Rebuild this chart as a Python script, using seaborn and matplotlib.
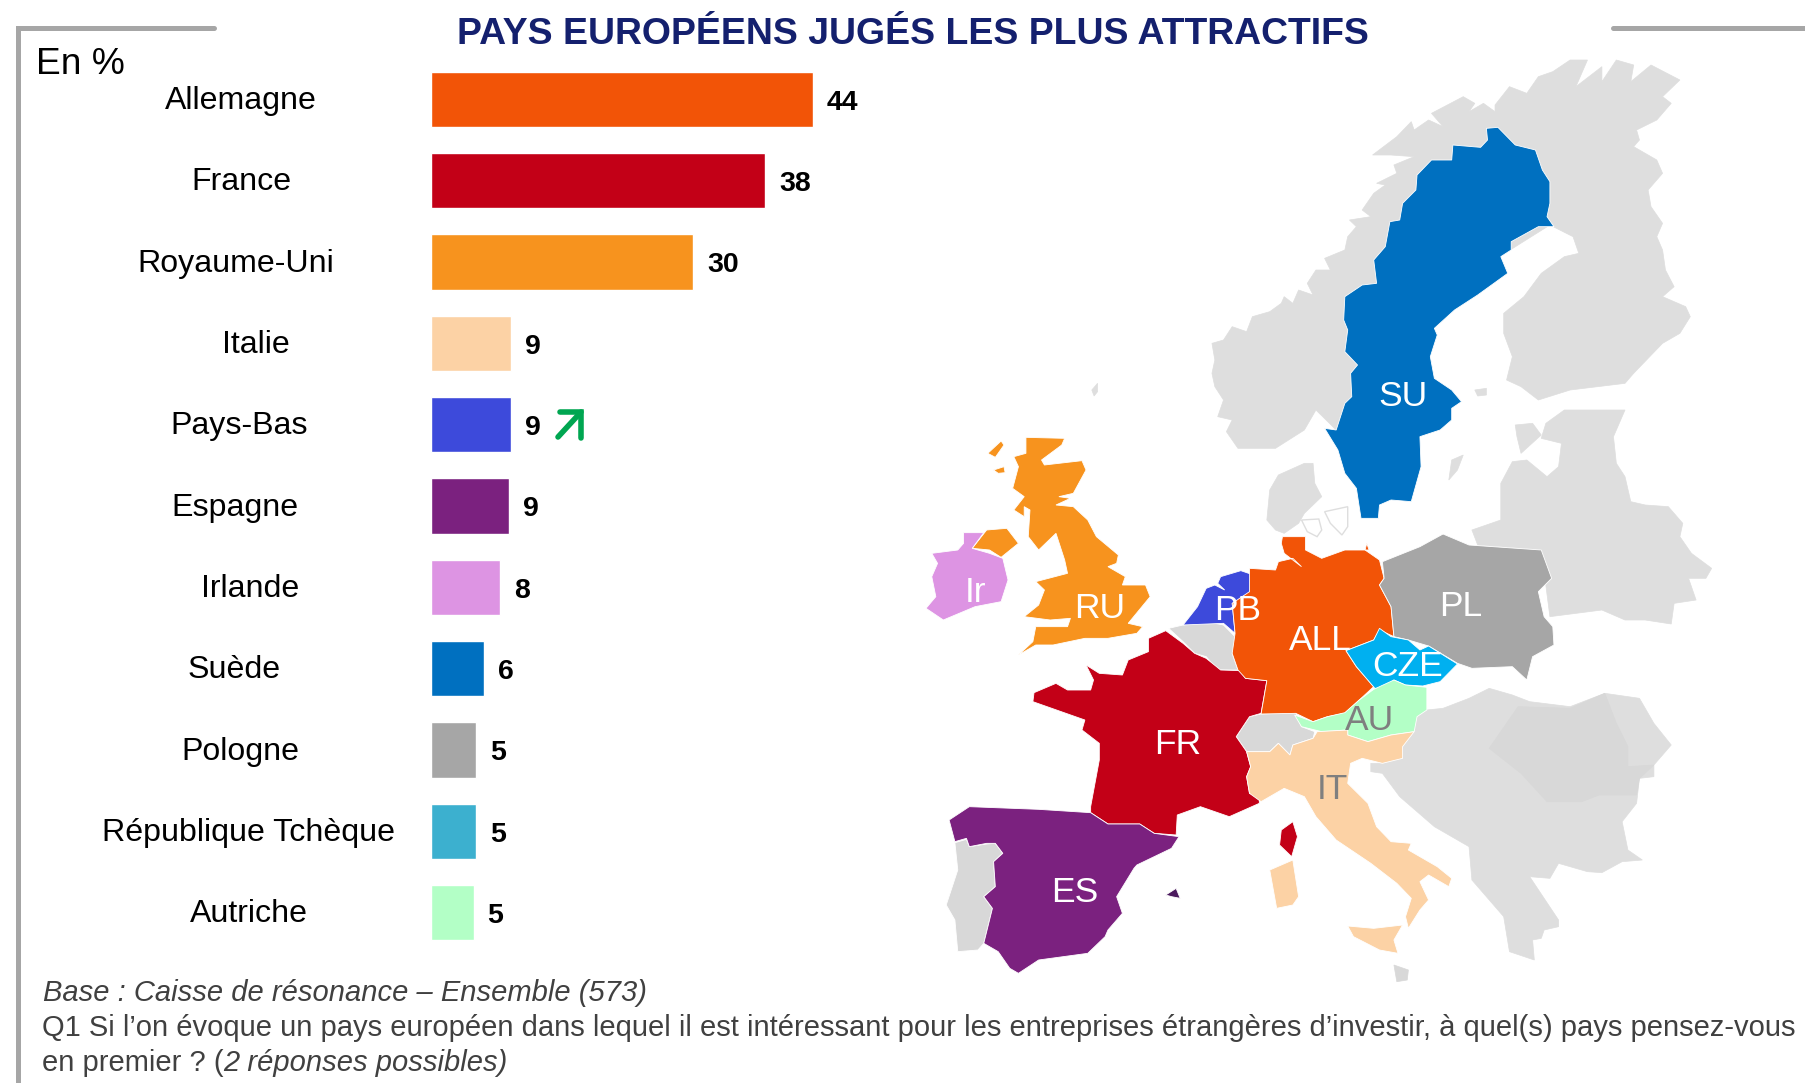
import matplotlib
matplotlib.use('Agg')
import matplotlib.pyplot as plt
from matplotlib.patches import Polygon
from matplotlib.transforms import blended_transform_factory
import pandas as pd
import seaborn as sns

# chart data
categories = ['Allemagne', 'France', 'Royaume-Uni', 'Italie', 'Pays-Bas', 'Espagne', 'Irlande',
              'Suède', 'Pologne', 'République Tchèque', 'Autriche']
values = [43.8, 38.3, 30.1, 9.2, 9.2, 9.0, 7.9, 6.1, 5.2, 5.2, 4.9]
bar_colors = ['#F25407', '#C30017', '#F7931E', '#FCD2A5', '#3D4ADB', '#7B217F', '#DD94E3',
              '#0070C0', '#A6A6A6', '#3CB0CF', '#B3FFC6']
label_x = [241, 241, 236, 256, 239, 235, 250, 234, 240, 249, 249]

W, H = 1806, 1083
GRAY = '#DEDEDE'
DARK_GRAY = '#D8D8D8'

sns.set_style('white')
plt.rcParams['font.family'] = ['Liberation Sans', 'DejaVu Sans']


def z1(pts):
    return [(900 + x / 1.731, 40 + y / 3) for x, y in pts]


def z2(pts):
    return [(900 + x / 1.731, 520 + y / 3) for x, y in pts]


norway_finland = z1([(565, 1175), (575, 1140), (550, 1130), (560, 1080), (545, 1040), (540, 1000), (545, 960),
                     (540, 910), (560, 900), (575, 860), (600, 875), (610, 830), (640, 815), (660, 790), (665, 770),
                     (680, 790), (690, 750), (715, 765), (705, 730), (720, 690), (745, 690), (735, 655), (770, 630),
                     (775, 590), (790, 560), (778, 540), (815, 530), (800, 510), (820, 460), (840, 435), (825, 430),
                     (860, 400), (855, 375), (890, 350), (850, 345), (818, 345), (860, 290), (885, 245), (890, 270),
                     (915, 240), (940, 260), (920, 220), (975, 170), (995, 190), (985, 215), (1010, 190), (1030, 215),
                     (1030, 195), (1055, 140), (1085, 160), (1105, 110), (1130, 95), (1160, 60), (1190, 60),
                     (1170, 140), (1215, 80), (1215, 125), (1240, 60), (1270, 75), (1265, 125), (1300, 75),
                     (1350, 120), (1320, 170), (1335, 190), (1310, 240), (1275, 270), (1280, 300), (1270, 320),
                     (1310, 360), (1320, 400), (1295, 450), (1300, 500), (1320, 550), (1310, 590), (1320, 630),
                     (1325, 690), (1340, 740), (1320, 770), (1360, 800), (1368, 830), (1350, 880), (1320, 910),
                     (1270, 1000), (1255, 1030), (1160, 1050), (1105, 1080), (1075, 1040), (1050, 1020), (1060, 950),
                     (1045, 880), (1045, 820), (1080, 770), (1110, 700), (1150, 650), (1175, 640), (1165, 590),
                     (1125, 555), (900, 800), (780, 1100), (755, 1170), (720, 1110), (700, 1170), (650, 1225),
                     (585, 1225)])
sweden = z1([(1015, 265), (1035, 262), (1065, 315), (1100, 330), (1112, 390), (1125, 425), (1125, 490), (1120, 530),
             (1132, 560), (1105, 560), (1058, 605), (1058, 630), (1040, 650), (1052, 700), (1000, 765), (960, 810),
             (925, 865), (930, 885), (918, 950), (925, 1015), (955, 1050), (972, 1085), (955, 1105), (955, 1140),
             (935, 1170), (900, 1190), (902, 1280), (885, 1385), (850, 1380), (830, 1395), (828, 1435), (798, 1435),
             (790, 1345), (770, 1300), (758, 1230), (735, 1165), (755, 1170), (770, 1090), (782, 1070), (780, 1000),
             (792, 975), (770, 935), (775, 870), (768, 840), (770, 770), (800, 735), (825, 730), (820, 660),
             (840, 620), (848, 545), (865, 540), (870, 490), (893, 450), (895, 405), (920, 360), (955, 360),
             (957, 315), (1005, 322), (1017, 300)])
baltics = z1([(1118, 1150), (1150, 1110), (1255, 1110), (1235, 1190), (1240, 1270), (1255, 1310), (1265, 1385),
              (1290, 1395), (1330, 1400), (1355, 1450), (1350, 1490), (1370, 1540), (1405, 1585), (1395, 1615),
              (1365, 1615), (1378, 1680), (1340, 1690), (1335, 1752), (1290, 1740), (1255, 1740), (1215, 1710),
              (1125, 1730), (1110, 1530), (1000, 1515), (990, 1470), (1040, 1440), (1040, 1330), (1060, 1265),
              (1085, 1260), (1120, 1310), (1140, 1280), (1145, 1210), (1110, 1195)])
denmark = z1([(640, 1350), (655, 1305), (700, 1270), (715, 1270), (718, 1330), (730, 1370), (700, 1420), (690, 1450),
              (665, 1480), (650, 1470), (635, 1440)])
balkans = z2([(912, 570), (940, 565), (985, 535), (1020, 505), (1060, 525), (1090, 545), (1160, 560), (1220, 520),
              (1280, 535), (1305, 610), (1335, 675), (1305, 735), (1305, 770), (1280, 775), (1275, 850), (1250, 905),
              (1260, 990), (1285, 1020), (1250, 1025), (1215, 1058), (1190, 1055), (1140, 1030), (1125, 1075),
              (1090, 1070), (1140, 1200), (1140, 1220), (1115, 1230), (1110, 1255), (1095, 1260), (1098, 1320),
              (1055, 1295), (1045, 1190), (990, 1080), (985, 980), (925, 920), (865, 830), (835, 760), (815, 755),
              (815, 730), (835, 730), (870, 715), (870, 680), (890, 635), (895, 590)])
romania = z2([(1070, 560), (1160, 565), (1220, 520), (1240, 610), (1260, 680), (1260, 740), (1305, 735), (1280, 775),
              (1275, 825), (1210, 825), (1180, 845), (1120, 845), (1075, 760), (1020, 685)])
uk = z2([(218, -248), (285, -245), (280, -225), (245, -180), (250, -165), (315, -178), (322, -150), (300, -80),
         (275, -70), (295, -65), (270, -45), (300, -40), (325, 0), (340, 50), (378, 105), (375, 130), (360, 140),
         (390, 170), (385, 195), (425, 195), (433, 230), (395, 310), (420, 320), (410, 340), (360, 355), (320, 355),
         (265, 375), (235, 375), (205, 405), (230, 365), (235, 320), (290, 320), (295, 295), (260, 300), (215, 290),
         (240, 255), (250, 210), (235, 185), (290, 160), (285, 120), (270, 40), (240, 90), (222, 50), (222, 50),
         (225, -30), (215, -40), (215, -10), (197, -30), (215, -70), (195, -95), (205, -160), (197, -190), (218, -200)])
n_ireland = z2([(125, 85), (150, 30), (185, 25), (205, 70), (175, 112), (155, 90)])
ireland = z2([(110, 38), (145, 38), (125, 85), (155, 100), (178, 115), (187, 180), (175, 245), (130, 260), (75, 300),
              (45, 265), (62, 230), (55, 170), (65, 130), (55, 100), (100, 90), (110, 70)])
netherlands = z2([(555, 170), (590, 152), (612, 165), (610, 220), (575, 250), (580, 340), (560, 310), (490, 315),
                  (515, 260), (530, 205), (545, 195), (562, 210), (550, 190)])
belgium = z2([(465, 325), (490, 315), (530, 305), (560, 315), (580, 350), (585, 395), (575, 400), (585, 450),
              (550, 450), (530, 410), (510, 400), (490, 365)])
france = z2([(460, 332), (490, 370), (510, 400), (530, 415), (555, 450), (590, 452), (598, 475), (635, 482),
             (625, 580), (605, 590), (582, 650), (600, 695), (607, 740), (600, 770), (605, 820), (622, 828),
             (622, 850), (570, 890), (520, 860), (480, 885), (478, 945), (440, 940), (415, 912), (360, 912),
             (330, 878), (330, 860), (345, 720), (345, 670), (315, 630), (320, 600), (230, 545), (232, 518),
             (270, 490), (290, 510), (330, 510), (335, 480), (322, 435), (345, 460), (385, 465), (395, 420),
             (430, 395), (430, 355)])
corsica = z2([(680, 905), (688, 950), (678, 1010), (657, 975), (660, 930)])
spain = z2([(85, 900), (120, 860), (240, 868), (330, 878), (360, 912), (415, 912), (440, 940), (483, 950), (470, 985),
            (410, 1035), (405, 1045), (375, 1130), (385, 1180), (360, 1230), (355, 1250), (325, 1300), (240, 1320),
            (205, 1360), (190, 1345), (170, 1295), (145, 1270), (160, 1165), (145, 1130), (165, 1100), (162, 1025),
            (178, 1000), (165, 970), (150, 970), (120, 980), (115, 955), (95, 965)])
mallorca = z2([(460, 1125), (478, 1105), (485, 1135), (470, 1130)])
portugal = z2([(95, 968), (115, 958), (120, 980), (150, 972), (165, 970), (178, 1000), (162, 1025), (165, 1100),
               (145, 1130), (160, 1165), (145, 1270), (135, 1290), (100, 1295), (95, 1200), (80, 1155), (100, 1050)])
germany = z2([(662, 50), (702, 50), (702, 90), (730, 115), (770, 90), (805, 90), (830, 120), (838, 175), (830, 195),
              (850, 260), (855, 350), (830, 330), (820, 360), (772, 392), (790, 440), (820, 500), (795, 540),
              (770, 580), (740, 590), (715, 605), (685, 580), (625, 582), (635, 482), (598, 475), (585, 450),
              (575, 400), (580, 340), (575, 250), (605, 215), (605, 145), (650, 150), (655, 125), (680, 115),
              (695, 140), (665, 100), (660, 70)])
poland = z2([(835, 125), (900, 80), (940, 42), (985, 75), (1110, 90), (1128, 175), (1105, 215), (1115, 290),
             (1130, 320), (1132, 375), (1095, 410), (1085, 480), (1060, 440), (990, 445), (965, 430), (915, 378),
             (880, 360), (855, 350), (850, 260), (830, 195), (838, 175)])
czech = z2([(830, 325), (850, 350), (880, 360), (900, 390), (915, 378), (965, 432), (935, 485), (905, 498), (875, 495),
            (855, 480), (840, 505), (822, 505), (790, 440), (772, 392), (820, 360)])
austria = z2([(855, 480), (875, 495), (912, 502), (912, 570), (895, 590), (890, 635), (850, 645), (810, 665),
              (775, 645), (775, 630), (730, 635), (695, 620), (683, 585), (715, 605), (740, 590), (770, 578),
              (795, 540), (820, 508)])
switzerland = z2([(625, 582), (685, 578), (695, 620), (718, 635), (715, 655), (680, 675), (675, 705), (655, 670),
                  (640, 695), (600, 695), (582, 650), (605, 590)])
italy = z2([(600, 695), (640, 695), (655, 670), (675, 705), (680, 675), (715, 655), (722, 635), (775, 630), (775, 645),
            (810, 665), (850, 645), (890, 635), (870, 680), (870, 715), (835, 730), (800, 715), (780, 730), (775, 790),
            (810, 850), (825, 920), (850, 965), (885, 970), (880, 990), (930, 1040), (955, 1075), (950, 1100),
            (915, 1065), (900, 1085), (915, 1140), (900, 1170), (880, 1225), (875, 1190), (885, 1135), (860, 1090),
            (815, 1030), (755, 960), (720, 890), (700, 830), (665, 805), (625, 845), (605, 820), (600, 770),
            (607, 740)])
sicily = z2([(775, 1218), (820, 1225), (870, 1215), (855, 1260), (862, 1300), (830, 1290), (785, 1250)])
sardinia = z2([(640, 1050), (680, 1020), (690, 1130), (680, 1155), (652, 1165)])

# grey countries first, they get no white border
grey_shapes = [
    (norway_finland, GRAY), (baltics, GRAY), (denmark, GRAY), (balkans, GRAY), (romania, DARK_GRAY),
    (z1([(950, 1320), (955, 1260), (975, 1245), (965, 1290)]), GRAY),
    (z1([(1065, 1155), (1095, 1150), (1110, 1185), (1075, 1240), (1068, 1190)]), GRAY),
    (z1([(995, 1050), (1015, 1045), (1015, 1065), (1000, 1068)]), GRAY),
    (z1([(332, 1050), (342, 1030), (342, 1055), (336, 1068)]), GRAY),
    (z2([(855, 1335), (880, 1350), (878, 1380), (860, 1385)]), DARK_GRAY),
]
map_shapes = [
    (belgium, DARK_GRAY), (portugal, DARK_GRAY), (switzerland, DARK_GRAY),
    (sweden, '#0070C0'), (uk, '#F7931E'), (n_ireland, '#F7931E'), (ireland, '#DD94E3'),
    (z1([(152, 1240), (175, 1203), (180, 1215), (165, 1252)]), '#F7931E'),
    (z1([(162, 1290), (180, 1280), (182, 1298), (170, 1300)]), '#F7931E'),
    (netherlands, '#3D4ADB'), (france, '#C30017'), (corsica, '#C30017'), (spain, '#7B217F'),
    (mallorca, '#4B1A5E'), (germany, '#F25407'), (z2([(808, 70), (812, 90), (805, 90)]), '#F25407'),
    (poland, '#A6A6A6'), (czech, '#00B0F0'), (austria, '#B3FFC6'),
    (italy, '#FCD2A5'), (sicily, '#FCD2A5'), (sardinia, '#FCD2A5'),
]
danish_islands = [z1([(695, 1440), (725, 1437), (730, 1470), (722, 1490), (705, 1475)]),
                  z1([(735, 1415), (775, 1400), (775, 1460), (765, 1485), (745, 1450)])]

map_labels = [('SU', z1([(871, 1071)])[0], 'white'), ('Ir', z2([(130, 216)])[0], 'white'),
              ('RU', z2([(345, 264)])[0], 'white'), ('PB', z2([(585, 271)])[0], 'white'),
              ('ALL', z2([(728, 361)])[0], 'white'), ('CZE', z2([(878, 441)])[0], 'white'),
              ('PL', z2([(970, 258)])[0], 'white'), ('AU', z2([(812, 601)])[0], '#7F7F7F'),
              ('FR', z2([(480, 674)])[0], 'white'), ('IT', z2([(748, 809)])[0], '#7F7F7F'),
              ('ES', z2([(303, 1118)])[0], 'white')]

fig = plt.figure(figsize=(W / 100, H / 100), dpi=100, facecolor='white')

# overlay in pixel coordinates for map, frame and notes
bg = fig.add_axes([0, 0, 1, 1])
bg.set_xlim(0, W)
bg.set_ylim(H, 0)
bg.axis('off')

for pts, col in grey_shapes:
    bg.add_patch(Polygon(pts, closed=True, facecolor=col, edgecolor=col, linewidth=0.5))
for pts, col in map_shapes:
    bg.add_patch(Polygon(pts, closed=True, facecolor=col, edgecolor='white', linewidth=0.6))
for pts in danish_islands:
    bg.add_patch(Polygon(pts, closed=True, facecolor='white', edgecolor=GRAY, linewidth=1))
for txt, (x, y), col in map_labels:
    bg.text(x, y, txt, color=col, fontsize=25.5, ha='center', va='center')

# grey frame pieces
bg.plot([18, 18, 214], [H, 28, 28], color='#A6A6A6', lw=3.6, solid_joinstyle='miter')
bg.plot([1613, W], [28, 28], color='#A6A6A6', lw=3.6)

bg.text(913, 35, 'PAYS EUROPÉENS JUGÉS LES PLUS ATTRACTIFS', color='#14206E', fontsize=26.9,
        fontweight='bold', ha='center', va='center')
bg.text(36, 65, 'En %', color='black', fontsize=26.7, ha='left', va='center')

# bars
ax_left, ax_width = 431, 436
ax_top, ax_bottom = 58.7, 953.2
ax = fig.add_axes([ax_left / W, 1 - ax_bottom / H, ax_width / W, (ax_bottom - ax_top) / H])
ax.patch.set_alpha(0)
df = pd.DataFrame({'pays': categories, 'valeur': values})
sns.barplot(data=df, x='valeur', y='pays', hue='pays', palette=bar_colors, dodge=False, legend=False,
            width=0.68, saturation=1, ax=ax)
ax.set_xlim(0, 50)
ax.set_ylim(10.5, -0.5)
ax.axis('off')
for container in ax.containers:
    for lab in ax.bar_label(container, fmt='%.0f', padding=10, fontsize=20.5, fontweight='bold', color='black'):
        lab.xyann = (10, -2.5)  # the numbers sit a little under the bar centre

trans = blended_transform_factory(bg.transData, ax.transData)
for i, name in enumerate(categories):
    ax.text(label_x[i], i + 0.02, name, transform=trans, fontsize=23.1, color='black', ha='center', va='center')

# green arrow next to Pays-Bas
bg.plot([558, 581], [437, 412], color='#00A651', lw=4, zorder=5)
bg.plot([560, 581, 581], [412, 412, 438], color='#00A651', lw=4, solid_joinstyle='miter', zorder=5)

# notes
note_col = '#404040'
bg.text(43, 993, 'Base : Caisse de résonance – Ensemble (573)', color=note_col, fontsize=21,
        style='italic', ha='left', va='center')
bg.text(42, 1028, "Q1 Si l’on évoque un pays européen dans lequel il est intéressant pour les entreprises "
        "étrangères d’investir, à quel(s) pays pensez-vous", color=note_col, fontsize=21, ha='left', va='center')
t = bg.text(42, 1063, 'en premier ? (', color=note_col, fontsize=21, ha='left', va='center')
bg.annotate('2 réponses possibles)', xy=(1, 0.5), xycoords=t, color=note_col, fontsize=21, style='italic',
            ha='left', va='center')

fig.savefig('out.png', dpi=100)
